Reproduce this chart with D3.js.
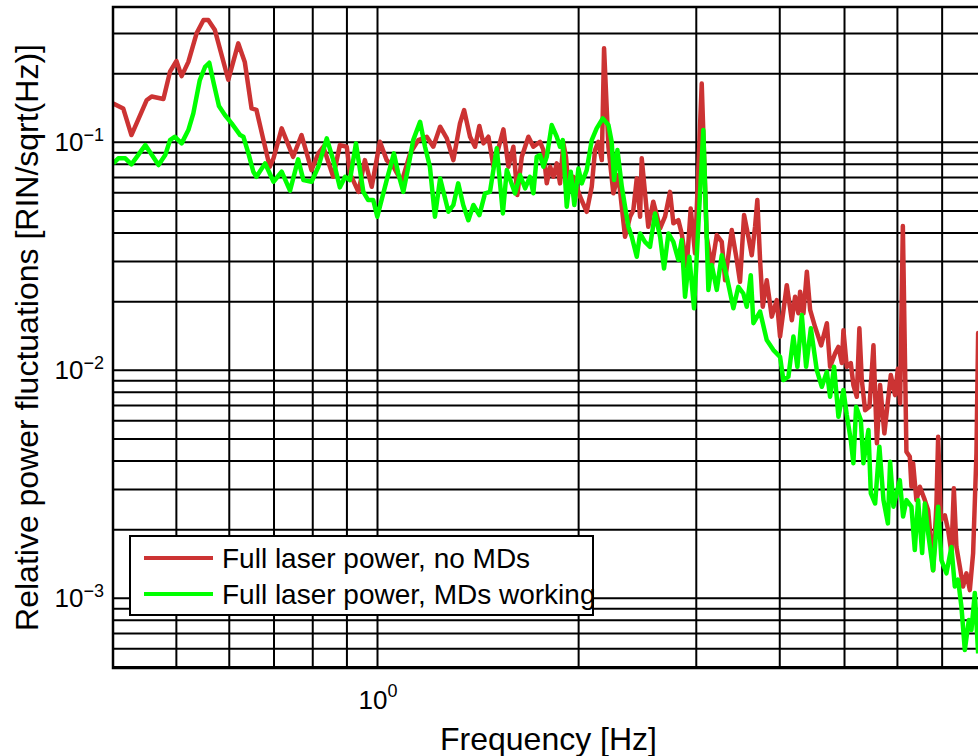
<meta charset="UTF-8">
<head>
  <script src="https://d3js.org/d3.v7.min.js"></script>
  <style>
    body { margin: 0; background: #fff; }
    text { font-family: "Liberation Sans", Arial, Helvetica, sans-serif; fill: #000; }
  </style>
</head>
<body>
  <svg id="svg" width="978" height="756"></svg>
  <script>
    // red trace: full laser power, no MDs
    const freqNoMD = [0.403,0.417,0.429,0.452,0.460,0.479,0.490,0.501,0.510,0.522,
      0.537,0.550,0.559,0.572,0.599,0.620,0.634,0.649,0.660,0.676,
      0.691,0.700,0.720,0.749,0.771,0.798,0.817,0.831,0.860,0.880,
      0.901,0.911,0.938,0.959,0.982,1.010,1.034,1.058,1.089,1.121,
      1.153,1.187,1.214,1.243,1.272,1.301,1.331,1.350,1.378,1.402,
      1.423,1.443,1.468,1.494,1.546,1.573,1.600,1.622,1.647,1.685,
      1.714,1.754,1.774,1.795,1.816,1.837,1.858,1.879,1.901,1.918,
      1.934,1.967,2.014,2.060,2.096,2.120,2.144,2.170,2.187,2.220,
      2.258,2.297,2.351,2.392,2.419,2.448,2.476,2.490,2.527,2.547,
      2.591,2.653,2.698,2.745,2.777,2.825,2.858,2.908,2.948,2.992,
      3.062,3.115,3.170,3.225,3.281,3.319,3.396,3.455,3.494,3.543,
      3.596,3.638,3.680,3.709,3.744,3.779,3.831,3.898,3.966,4.011,
      4.105,4.177,4.224,4.273,4.298,4.348,4.399,4.449,4.526,4.621,
      4.713,4.766,4.849,4.905,4.963,4.990,5.048,5.118,5.164,5.225,
      5.272,5.316,5.377,5.458,5.534,5.600,5.662,5.746,5.875,5.962,
      6.019,6.066,6.124,6.200,6.273,6.308,6.344,6.417,6.493,6.606,
      6.682,6.758,6.797,6.876,6.916,6.981,7.078,7.159,7.240,7.300,
      7.366,7.452,7.537,7.624,7.714,7.802,7.892,7.938,8.076];
    const rinNoMD = [0.147,0.140,0.107,0.152,0.158,0.154,0.203,0.226,0.194,0.224,
      0.299,0.342,0.342,0.309,0.187,0.270,0.224,0.140,0.138,0.102,
      0.0777,0.0846,0.1145,0.0859,0.107,0.0751,0.0889,0.0951,0.0702,0.0967,
      0.0951,0.0727,0.0603,0.0831,0.0635,0.100,0.0831,0.0777,0.0668,0.0889,
      0.1017,0.1052,0.0951,0.1164,0.1035,0.0831,0.1204,0.1377,0.1052,0.0951,
      0.1172,0.0984,0.1052,0.0777,0.1133,0.0777,0.0951,0.0584,0.0859,0.1052,
      0.0951,0.100,0.0920,0.0657,0.0777,0.0702,0.0804,0.0657,0.0984,0.0859,
      0.0635,0.0702,0.0574,0.0493,0.0635,0.0920,0.100,0.0831,0.257,0.0951,
      0.0594,0.0715,0.0383,0.0469,0.0501,0.0691,0.0469,0.0846,0.0537,0.0424,
      0.0546,0.0417,0.0469,0.0603,0.0439,0.0453,0.0396,0.0283,0.0510,0.0324,
      0.180,0.0383,0.0283,0.0390,0.0364,0.0247,0.0410,0.0303,0.0243,0.0477,
      0.0383,0.0318,0.0424,0.0555,0.0303,0.0189,0.0247,0.0171,0.0202,0.0140,
      0.0235,0.0165,0.0209,0.0177,0.0220,0.0177,0.0269,0.0183,0.0154,0.0128,
      0.0160,0.0103,0.0118,0.0126,0.0107,0.0149,0.0103,0.0107,0.00857,0.00761,
      0.0152,0.00901,0.00665,0.00688,0.0128,0.00476,0.00857,0.00526,0.00948,0.00774,
      0.0101,0.00712,0.0427,0.00437,0.00415,0.00307,0.00389,0.00268,0.00307,0.00268,
      0.00242,0.00167,0.00132,0.00259,0.00508,0.00219,0.00230,0.00198,0.00157,0.00302,
      0.00167,0.00137,0.00112,0.00128,0.00108,0.00157,0.00430,0.0145,0.0128];

    // green trace: full laser power, MDs working
    const freqMD = [0.403,0.410,0.420,0.429,0.450,0.471,0.482,0.490,0.498,0.510,
      0.522,0.531,0.543,0.553,0.561,0.569,0.580,0.592,0.606,0.624,
      0.631,0.642,0.653,0.660,0.680,0.700,0.720,0.741,0.762,0.776,
      0.798,0.817,0.841,0.860,0.880,0.896,0.911,0.930,0.954,0.970,
      0.987,1.001,1.034,1.060,1.076,1.095,1.114,1.133,1.160,1.180,
      1.200,1.221,1.243,1.279,1.301,1.323,1.346,1.370,1.394,1.423,
      1.451,1.476,1.511,1.543,1.564,1.609,1.637,1.666,1.694,1.714,
      1.734,1.754,1.774,1.795,1.826,1.858,1.879,1.897,1.923,1.950,
      1.974,2.002,2.025,2.060,2.096,2.132,2.177,2.220,2.245,2.264,
      2.290,2.325,2.351,2.378,2.406,2.448,2.476,2.518,2.562,2.607,
      2.653,2.689,2.730,2.777,2.825,2.858,2.891,2.934,2.982,3.079,
      3.133,3.170,3.225,3.281,3.338,3.415,3.474,3.534,3.576,3.626,
      3.659,3.744,3.831,3.920,4.011,4.057,4.128,4.200,4.258,4.323,
      4.388,4.460,4.552,4.632,4.713,4.766,4.832,4.905,4.990,5.048,
      5.118,5.164,5.213,5.298,5.346,5.439,5.484,5.566,5.648,5.728,
      5.816,5.861,5.928,6.060,6.129,6.200,6.308,6.381,6.455,6.545,
      6.606,6.682,6.797,6.916,6.996,7.116,7.240,7.325,7.409,7.494,
      7.582,7.688,7.757,7.848,7.938];
    const rinMD = [0.0804,0.0846,0.0846,0.0796,0.0967,0.0790,0.0874,0.1017,0.1052,0.0984,
      0.1125,0.1332,0.1865,0.2133,0.2221,0.1833,0.1434,0.1310,0.1204,0.1070,
      0.1052,0.0889,0.0739,0.0702,0.0804,0.0668,0.0739,0.0610,0.0837,0.0679,
      0.0668,0.0777,0.1035,0.0831,0.0631,0.0702,0.0679,0.0984,0.0603,0.0555,
      0.0555,0.0469,0.0679,0.0889,0.0727,0.0603,0.0777,0.1017,0.1224,0.0951,
      0.0777,0.0469,0.0691,0.0493,0.0528,0.0657,0.0528,0.0453,0.0528,0.0477,
      0.0594,0.0603,0.0936,0.0485,0.0751,0.0594,0.0715,0.0625,0.0702,0.0594,
      0.0859,0.0874,0.0777,0.0859,0.1184,0.1052,0.0951,0.1017,0.0519,0.0739,
      0.0528,0.0764,0.0657,0.0751,0.1017,0.1145,0.1266,0.1184,0.100,0.0679,
      0.0920,0.0635,0.0519,0.0424,0.0383,0.0313,0.0396,0.0364,0.0346,0.0485,
      0.0383,0.0278,0.0396,0.0364,0.0303,0.0371,0.0209,0.0313,0.0186,0.1125,
      0.0224,0.0288,0.0224,0.0318,0.0256,0.0186,0.0231,0.0216,0.0189,0.0260,
      0.0160,0.0180,0.0135,0.0122,0.0114,0.00901,0.00932,0.0140,0.0103,0.0174,
      0.0103,0.0152,0.00997,0.00842,0.0098,0.00761,0.0103,0.00622,0.00815,0.00633,
      0.00492,0.00389,0.00688,0.00602,0.00389,0.00544,0.00287,0.00259,0.00460,0.00268,
      0.00212,0.00395,0.00251,0.00328,0.00227,0.00268,0.00251,0.00162,0.00268,0.00157,
      0.00259,0.00192,0.00132,0.00251,0.00146,0.00128,0.00167,0.00112,0.00120,0.000913,
      0.000590,0.000799,0.000722,0.00105,0.000570];

    const xLabelTicks = [1];
    const yLabelTicks = [1e-3, 1e-2, 1e-1];
    const seriesNames = ["Full laser power, no MDs", "Full laser power, MDs working"];
    const seriesColors = ["#cc3333", "#00ff00"];

    const plotL = 113, plotT = 7, plotR = 984, plotB = 668;
    const svg = d3.select("#svg");

    const x = d3.scaleLog().domain([0.4026, 8.1]).range([plotL, plotR]);
    const y = d3.scaleLog().domain([4.92e-4, 0.39]).range([plotB, plotT]);

    svg.append("defs").append("clipPath").attr("id", "plot")
      .append("rect").attr("x", plotL).attr("y", plotT)
      .attr("width", plotR - plotL).attr("height", plotB - plotT);

    // grid, major and minor alike (solid black)
    svg.append("g")
      .attr("transform", `translate(0,${plotB})`)
      .call(d3.axisBottom(x).tickValues(x.ticks()).tickSize(-(plotB - plotT)).tickFormat(""))
      .call(g => g.select(".domain").remove())
      .selectAll("line").attr("stroke", "#000").attr("stroke-width", 2);

    svg.append("g")
      .attr("transform", `translate(${plotL},0)`)
      .call(d3.axisLeft(y).tickValues(y.ticks()).tickSize(-(plotR - plotL)).tickFormat(""))
      .call(g => g.select(".domain").remove())
      .selectAll("line").attr("stroke", "#000").attr("stroke-width", 2);

    const line = d3.line().x(d => x(d[0])).y(d => y(d[1]));
    const series = [d3.zip(freqNoMD, rinNoMD), d3.zip(freqMD, rinMD)];

    svg.append("g").attr("clip-path", "url(#plot)")
      .selectAll("path").data(series).join("path")
      .attr("d", line)
      .attr("fill", "none")
      .attr("stroke", (d, i) => seriesColors[i])
      .attr("stroke-width", 4.5)
      .attr("stroke-linejoin", "round");

    // box (right side is out of frame)
    svg.append("path")
      .attr("d", `M${plotR},${plotT}H${plotL}V${plotB}H${plotR}`)
      .attr("fill", "none").attr("stroke", "#000").attr("stroke-width", 2.5);

    const sup = d => {
      const e = Math.round(Math.log10(d));
      return e < 0 ? "\u2212" + (-e) : String(e);
    };

    svg.selectAll(".ylab").data(yLabelTicks).join("text")
      .attr("class", "ylab")
      .attr("x", 104).attr("y", d => y(d) + 9.5)
      .attr("text-anchor", "end").attr("font-size", 26)
      .each(function (d) {
        const t = d3.select(this);
        t.append("tspan").text("10");
        t.append("tspan").attr("font-size", 18).attr("dy", -10).text(sup(d));
      });

    svg.selectAll(".xlab").data(xLabelTicks).join("text")
      .attr("class", "xlab")
      .attr("x", d => x(d) + 1).attr("y", 709)
      .attr("text-anchor", "middle").attr("font-size", 26)
      .each(function (d) {
        const t = d3.select(this);
        t.append("tspan").text("10");
        t.append("tspan").attr("font-size", 18).attr("dy", -12).text(sup(d));
      });

    svg.append("text")
      .attr("x", (plotL + plotR) / 2).attr("y", 750)
      .attr("text-anchor", "middle").attr("font-size", 32)
      .text("Frequency [Hz]");

    svg.append("text")
      .attr("transform", `translate(38,${(plotT + plotB) / 2}) rotate(-90)`)
      .attr("text-anchor", "middle").attr("font-size", 32)
      .text("Relative power fluctuations [RIN/sqrt(Hz)]");

    // legend
    const legend = svg.append("g").attr("transform", "translate(130,536)");
    legend.append("rect")
      .attr("width", 463).attr("height", 79)
      .attr("fill", "#fff").attr("stroke", "#000").attr("stroke-width", 2);
    const item = legend.selectAll("g").data(seriesNames).join("g")
      .attr("transform", (d, i) => `translate(0,${22 + i * 36})`);
    item.append("line")
      .attr("x1", 14).attr("x2", 83)
      .attr("stroke", (d, i) => seriesColors[i]).attr("stroke-width", 4);
    item.append("text")
      .attr("x", 92).attr("y", 10).attr("font-size", 28)
      .text(d => d);
  </script>
</body>
